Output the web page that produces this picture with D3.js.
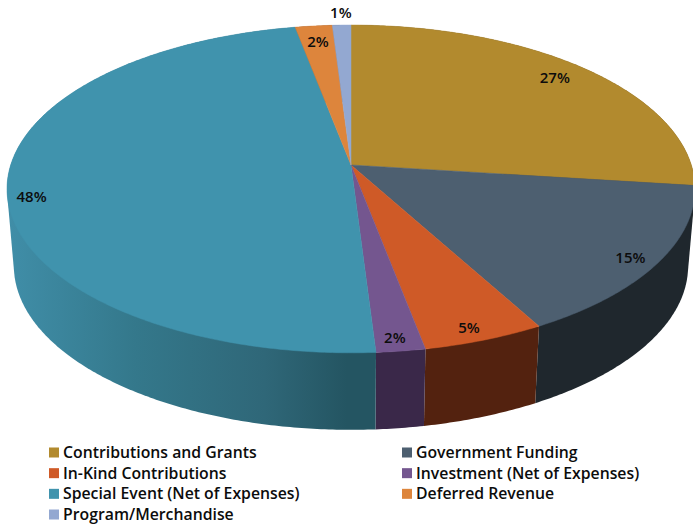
<!DOCTYPE html>
<html lang="en">
<head>
    <meta charset="UTF-8">
    <title>Revenue pie</title>
    <script src="https://d3js.org/d3.v7.min.js"></script>
    <style>
        html, body { margin: 0; background: #fff; }
        svg { display: block; }
        text { font-family: "Open Sans", sans-serif; fill: #0c0c0c; }
        .label { font-size: 15px; font-weight: 600; }
        .legend text { font-size: 15.8px; font-weight: 600; }
    </style>
</head>
<body>
    <script>
        const categories = ["Contributions and Grants", "Government Funding", "In-Kind Contributions",
            "Investment (Net of Expenses)", "Special Event (Net of Expenses)", "Deferred Revenue", "Program/Merchandise"];
        const values = [27, 15, 5, 2, 48, 2, 1];
        const topColors = ["#b28a2e", "#4d5f70", "#cf5a27", "#74568f", "#4093ad", "#dd853c", "#93a8d1"];
        const wallColors = ["#59451a", "#1f272d", "#53220f", "#3a2849", "url(#wallTeal)", "#6e4220", "#4a5468"];

        // how far out along its slice each label sits, and the small moves the original has on top of that
        const labelRadius = [0.87, 0.93, 0.93, 0.93, 0.93, 0.87, 1.1];
        const labelNudgeX = [-1, -4, -5, -2, 0, 0, 0];
        const labelNudgeY = [-2, 2, 2, 2, 13, 0, 0];

        const width = 693, height = 525;
        const depth = 77, wallShrink = 0.98;

        // perspective map from the unit disc to the tilted top of the pie
        const cx = 351, apexY = 165, persp = -0.146, ya = 136.3, xa = 340.3;
        const project = (r, angle) => {
            const u = r * Math.sin(angle), v = -r * Math.cos(angle);
            const w = 1 + persp * v;
            return [cx + xa * u / w, (ya * v + apexY) / w];
        };
        const lower = p => [cx + (p[0] - cx) * wallShrink, p[1] + depth];

        const arcPoints = (a0, a1) => {
            const n = Math.max(2, Math.ceil((a1 - a0) / 0.01));
            return d3.range(n + 1).map(i => project(1, a0 + (a1 - a0) * i / n));
        };

        const svg = d3.select("body").append("svg")
            .attr("width", width).attr("height", height);

        const grad = svg.append("defs").append("linearGradient")
            .attr("id", "wallTeal")
            .attr("gradientUnits", "userSpaceOnUse")
            .attr("x1", 7).attr("x2", 376).attr("y1", 0).attr("y2", 0);
        [[0, "#408ea8"], [0.35, "#34788b"], [0.7, "#2f6778"], [0.92, "#245562"], [1, "#245562"]].forEach(s => {
            grad.append("stop").attr("offset", s[0]).attr("stop-color", s[1]);
        });

        const slices = d3.pie().sort(null).value(d => d)(values);
        const line = d3.line();

        // walls first, hull so the sides run straight down, the back parts get covered by the top
        svg.append("g").selectAll("path")
            .data(slices)
            .enter()
            .append("path")
            .attr("fill", (d, i) => wallColors[i])
            .attr("d", d => {
                const pts = arcPoints(d.startAngle, d.endAngle);
                return line(d3.polygonHull(pts.concat(pts.map(lower)))) + "Z";
            });

        svg.append("g").selectAll("path")
            .data(slices)
            .enter()
            .append("path")
            .attr("fill", (d, i) => topColors[i])
            .attr("stroke", (d, i) => topColors[i])
            .attr("stroke-width", 0.5)
            .attr("d", d => line([[cx, apexY]].concat(arcPoints(d.startAngle, d.endAngle))) + "Z");

        svg.append("g").selectAll("text")
            .data(slices)
            .enter()
            .append("text")
            .attr("class", "label")
            .attr("text-anchor", "middle")
            .attr("dy", "0.35em")
            .attr("x", (d, i) => project(labelRadius[i], (d.startAngle + d.endAngle) / 2)[0] + labelNudgeX[i])
            .attr("y", (d, i) => project(labelRadius[i], (d.startAngle + d.endAngle) / 2)[1] + labelNudgeY[i])
            .text(d => d.data + "%");

        // legend, two columns filled row by row
        const legendX = d3.scaleOrdinal().domain([0, 1]).range([49, 402]);
        const legendY = d3.scaleLinear().domain([0, 3]).range([452.5, 514.5]);
        const legend = svg.append("g").attr("class", "legend")
            .selectAll("g")
            .data(categories)
            .enter()
            .append("g")
            .attr("transform", (d, i) => `translate(${legendX(i % 2)},${legendY(Math.floor(i / 2))})`);
        legend.append("rect")
            .attr("x", 0).attr("y", -5).attr("width", 10).attr("height", 10)
            .attr("fill", (d, i) => topColors[i]);
        legend.append("text")
            .attr("x", 14).attr("dy", "0.35em")
            .text(d => d);
    </script>
</body>
</html>
